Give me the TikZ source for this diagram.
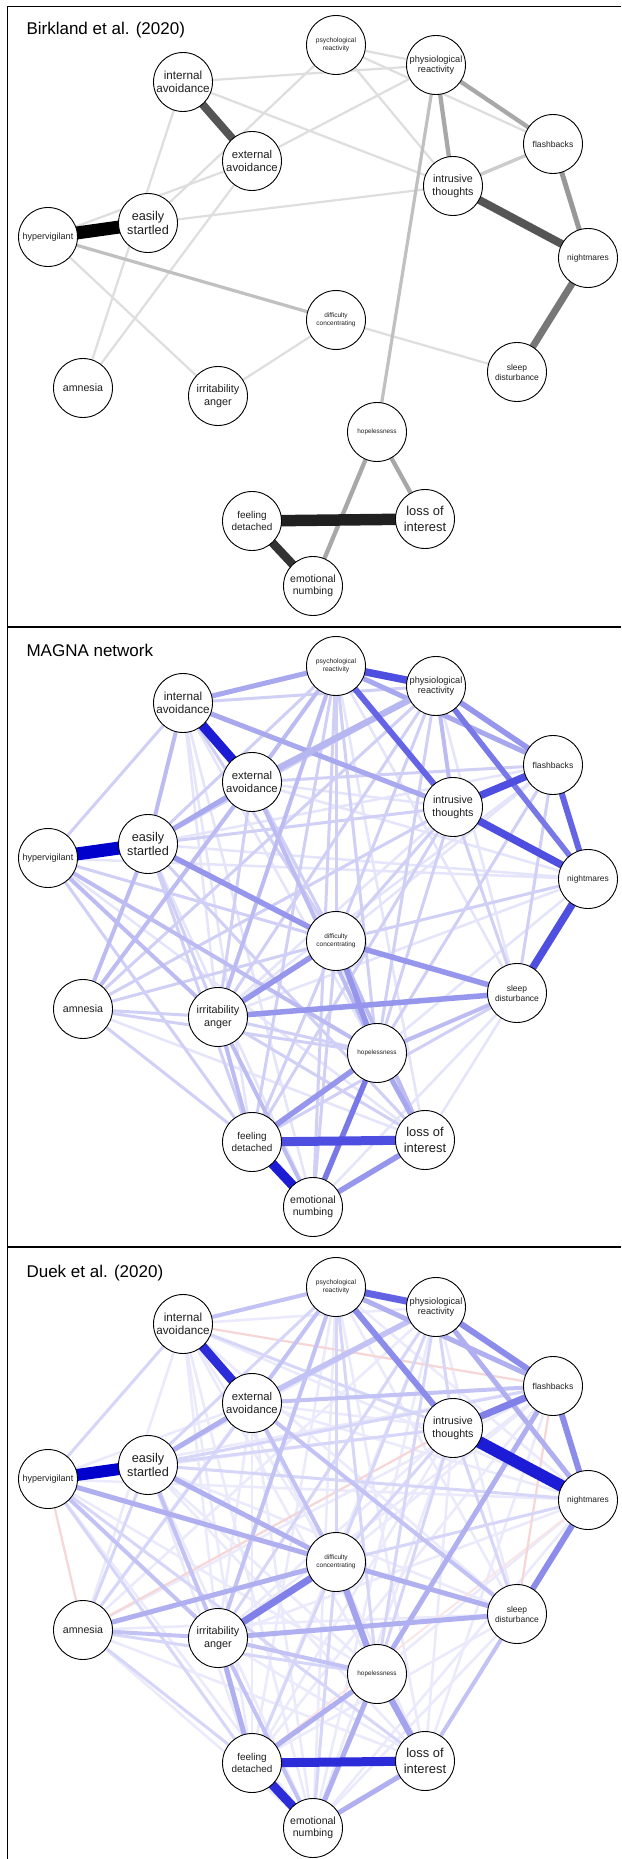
\documentclass[tikz,border=0pt]{standalone}
\usepackage{fontspec}
\setmainfont{Liberation Sans}
\pgfdeclarelayer{bg}
\pgfdeclarelayer{edges}
\pgfsetlayers{bg,edges,main}
\definecolor{gA}{HTML}{DEDEDE}\definecolor{gB}{HTML}{CCCCCC}\definecolor{gC}{HTML}{C0C0C0}
\definecolor{gD}{HTML}{A8A8A8}\definecolor{gE}{HTML}{989898}\definecolor{gF}{HTML}{777777}
\definecolor{gG}{HTML}{555555}\definecolor{gH}{HTML}{333333}\definecolor{gI}{HTML}{202020}
\definecolor{bA}{HTML}{E4E4FA}\definecolor{bB}{HTML}{D0D0F6}\definecolor{bC}{HTML}{BCBCF2}
\definecolor{bD}{HTML}{A8A8EE}\definecolor{bW}{HTML}{B6B6F0}\definecolor{bE}{HTML}{9696EC}
\definecolor{bF}{HTML}{7878E6}\definecolor{bG}{HTML}{6464E4}\definecolor{bH}{HTML}{4E4EE0}
\definecolor{bI}{HTML}{1C1CD4}\definecolor{bJ}{HTML}{0000CC}
\definecolor{cA}{HTML}{EAEAFC}\definecolor{cB}{HTML}{D6D6F8}\definecolor{cC}{HTML}{C2C2F4}
\definecolor{cD}{HTML}{B0B0F0}\definecolor{cE}{HTML}{A4A4EE}\definecolor{cF}{HTML}{8C8CEA}
\definecolor{cG}{HTML}{8080E8}\definecolor{cH}{HTML}{6262E2}\definecolor{cI}{HTML}{2C2CD8}
\definecolor{cJ}{HTML}{1C1CD6}\definecolor{rA}{HTML}{F6D6D6}\definecolor{rB}{HTML}{FAE4E4}
\definecolor{txt}{HTML}{1E1E1E}
\tikzset{
  nd/.style={circle,draw=black,line width=0.9pt,fill=white,minimum size=59pt,inner sep=0pt,align=center,text=txt},
  ttl/.style={anchor=base west,font=\fontsize{17}{20}\selectfont,text=black},
  frame/.style={draw=black,line width=1pt},
  sep/.style={draw=black,line width=2pt},
}
\newcommand\placenodes[1]{%
\node[nd,font=\fontsize{6.7}{8.2}\selectfont] (#1ps) at (336,45) {psychological\\reactivity};
\node[nd,font=\fontsize{9.2}{10.6}\selectfont] (#1pr) at (436,65) {physiological\\reactivity};
\node[nd,font=\fontsize{11.7}{13.6}\selectfont] (#1ia) at (183,82) {internal\\avoidance};
\node[nd,font=\fontsize{11.3}{13.2}\selectfont] (#1ea) at (252,161) {external\\avoidance};
\node[nd,font=\fontsize{8.6}{10}\selectfont] (#1fb) at (553,144) {flashbacks};
\node[nd,font=\fontsize{10.7}{12.6}\selectfont] (#1it) at (453,186) {intrusive\\thoughts};
\node[nd,font=\fontsize{12.7}{14.6}\selectfont] (#1es) at (148,223) {easily\\startled};
\node[nd,font=\fontsize{9}{10.5}\selectfont] (#1hv) at (48,237) {hypervigilant};
\node[nd,font=\fontsize{8.4}{10}\selectfont] (#1nm) at (588,258) {nightmares};
\node[nd,font=\fontsize{6.5}{8.2}\selectfont] (#1dc) at (336,320) {difficulty\\concentrating};
\node[nd,font=\fontsize{8.5}{10}\selectfont] (#1sd) at (517,372) {sleep\\disturbance};
\node[nd,font=\fontsize{10.6}{12.4}\selectfont] (#1am) at (83,388) {amnesia};
\node[nd,font=\fontsize{10.8}{12.8}\selectfont] (#1ir) at (218,396) {irritability\\anger};
\node[nd,font=\fontsize{6.4}{7.6}\selectfont] (#1hp) at (377,432) {hopelessness};
\node[nd,font=\fontsize{9.9}{11.8}\selectfont] (#1fd) at (252,521) {feeling\\detached};
\node[nd,font=\fontsize{12.9}{15.3}\selectfont] (#1li) at (425,519) {loss of\\interest};
\node[nd,font=\fontsize{10.5}{12.2}\selectfont] (#1en) at (313,586) {emotional\\numbing};
}
\newcommand\edges[4]{\foreach \ua/\ub in {#4} \draw[draw=#2,line width=#3pt] (#1\ua.center) -- (#1\ub.center);}
\begin{document}
\begin{tikzpicture}[x=1pt,y=-1pt]
\useasboundingbox (0,0) rectangle (621,1859);
\begin{pgfonlayer}{bg}
\fill[white] (0,0) rectangle (621,1859);
\end{pgfonlayer}
\draw[frame] (7.5,1859) -- (7.5,7) -- (621,7);
\draw[sep] (7.5,627) -- (621,627);
\draw[sep] (7.5,1247) -- (621,1247);
% ---------------- panel 1
\begin{scope}
\node[ttl] (Atitle) at (23,35) {Birkland et al. (2020)};
\placenodes{A}
\begin{pgfonlayer}{edges}
\edges{A}{gA}{2.2}{ps/pr,ps/fb,ps/it,ia/pr,ia/it,ea/pr,es/ps,es/it,hv/ea,ia/am,ea/am,hv/ir,ir/dc,dc/sd}
\edges{A}{gB}{3.4}{it/fb}
\edges{A}{gC}{3.2}{pr/hp,hv/dc}
\edges{A}{gD}{4.3}{pr/fb,pr/it,hp/li,hp/en}
\edges{A}{gE}{5}{fb/nm}
\edges{A}{gF}{7}{nm/sd}
\edges{A}{gG}{8}{ia/ea,it/nm}
\edges{A}{gH}{8.5}{fd/en}
\edges{A}{gI}{11.5}{fd/li}
\edges{A}{black}{13}{hv/es}
\end{pgfonlayer}
\end{scope}
% ---------------- panel 2
\begin{scope}[shift={(0,621)}]
\node[ttl] (Btitle) at (23,35) {MAGNA network};
\placenodes{B}
\begin{pgfonlayer}{edges}
\edges{B}{bA}{2.5}{es/fb,es/nm,hv/nm,ia/ir,ia/hp,ia/fd,it/ir,fb/dc,fb/ir,nm/hp,nm/ir,sd/li,sd/en,ps/li,ps/am,ps/sd,es/en,am/li,pr/sd,ea/it,ea/nm,ea/li,hv/li,ia/en}
\edges{B}{bB}{3}{hv/ia,hv/dc,hv/fd,ea/ir,ea/dc,es/it,es/li,es/fd,es/ir,ia/dc,it/dc,it/hp,it/sd,it/am,it/fd,fb/ea,fb/hp,fb/sd,nm/dc,sd/fd,dc/am,dc/fd,dc/en,am/ir,am/hp,am/fd,ir/hp,ir/li,ps/es,ps/dc,ps/hp,ps/fd,ps/en,pr/ia,pr/dc,pr/hp,pr/es,pr/ir,pr/am}
\edges{B}{bC}{4}{es/ia,ir/ps,ir/en,ir/fd,am/es,am/ea,hv/ir,hv/hp,dc/li,hp/sd,ps/ea,ea/hp,pr/it}
\edges{B}{bD}{5}{ia/it,es/ea,hp/li,ps/fb,ia/ps}
\edges{B}{bW}{6.5}{ea/pr}
\edges{B}{bE}{5.5}{es/dc,dc/sd,dc/ir,ir/sd,dc/hp,hp/fd,li/en,pr/fb}
\edges{B}{bF}{5.5}{pr/nm,hp/en}
\edges{B}{bG}{6}{fb/nm,ps/it}
\edges{B}{bH}{7.5}{ps/pr,it/fb,it/nm,nm/sd}
\edges{B}{bH}{9}{fd/li}
\edges{B}{bI}{9.5}{ia/ea,fd/en}
\edges{B}{bJ}{13}{hv/es}
\end{pgfonlayer}
\end{scope}
% ---------------- panel 3
\begin{scope}[shift={(0,1242)}]
\node[ttl] (Ctitle) at (23,35) {Duek et al. (2020)};
\placenodes{C}
\begin{pgfonlayer}{edges}
\edges{C}{cA}{2.5}{es/li,es/fd,es/en,es/hp,es/sd,hv/nm,hv/it,hv/fb,hv/en,hv/hp,ia/dc,ia/ir,ia/hp,ia/fd,ia/en,ia/sd,ia/am,ia/nm,ia/pr,ea/ir,ea/it,ea/nm,ea/en,ea/fd,ea/li,ea/hv,pr/es,pr/am,pr/sd,pr/fd,pr/en,ps/li,ps/am,ps/sd,ps/en,ps/fd,ps/nm,it/ir,it/fd,it/en,it/li,fb/dc,fb/ir,fb/am,fb/fd,fb/li,nm/hp,nm/ir,nm/li,nm/en,sd/fd,sd/en,sd/am,li/am,li/ir,en/am,dc/li}
\edges{C}{rB}{1.8}{nm/fd}
\edges{C}{rA}{2.2}{ia/fb,hv/am,am/it,fb/sd}
\edges{C}{cB}{3}{es/it,es/fb,es/nm,ia/it,hv/ia,am/es,am/ea,am/hp,hv/fd,hv/li,pr/dc,pr/hp,pr/ir,ps/dc,ps/es,dc/fd,dc/en,am/fd,it/sd,it/hp,it/dc,pr/it,ps/hp,nm/dc}
\edges{C}{cC}{4}{ir/es,ir/ps,ea/dc,ea/ps,ea/fb,ea/sd,ia/ps,hv/ir,am/ir,ir/hp,sd/li,ir/en}
\edges{C}{cC}{5.5}{ea/pr}
\edges{C}{cD}{5}{dc/am,dc/es,hv/dc,dc/sd,ir/sd,fb/hp,ps/fb,pr/nm,es/ea,hp/en,hp/fd,li/en,ir/fd}
\edges{C}{cE}{6.3}{dc/hp,hp/li}
\edges{C}{cF}{6}{ps/it,fb/nm,nm/sd,pr/fb}
\edges{C}{cG}{7}{dc/ir,it/fb}
\edges{C}{cH}{7}{ps/pr}
\edges{C}{cI}{9}{ia/ea,fd/li,fd/en}
\edges{C}{cJ}{12}{it/nm}
\edges{C}{bJ}{12}{hv/es}
\end{pgfonlayer}
\end{scope}
\end{tikzpicture}
\end{document}
